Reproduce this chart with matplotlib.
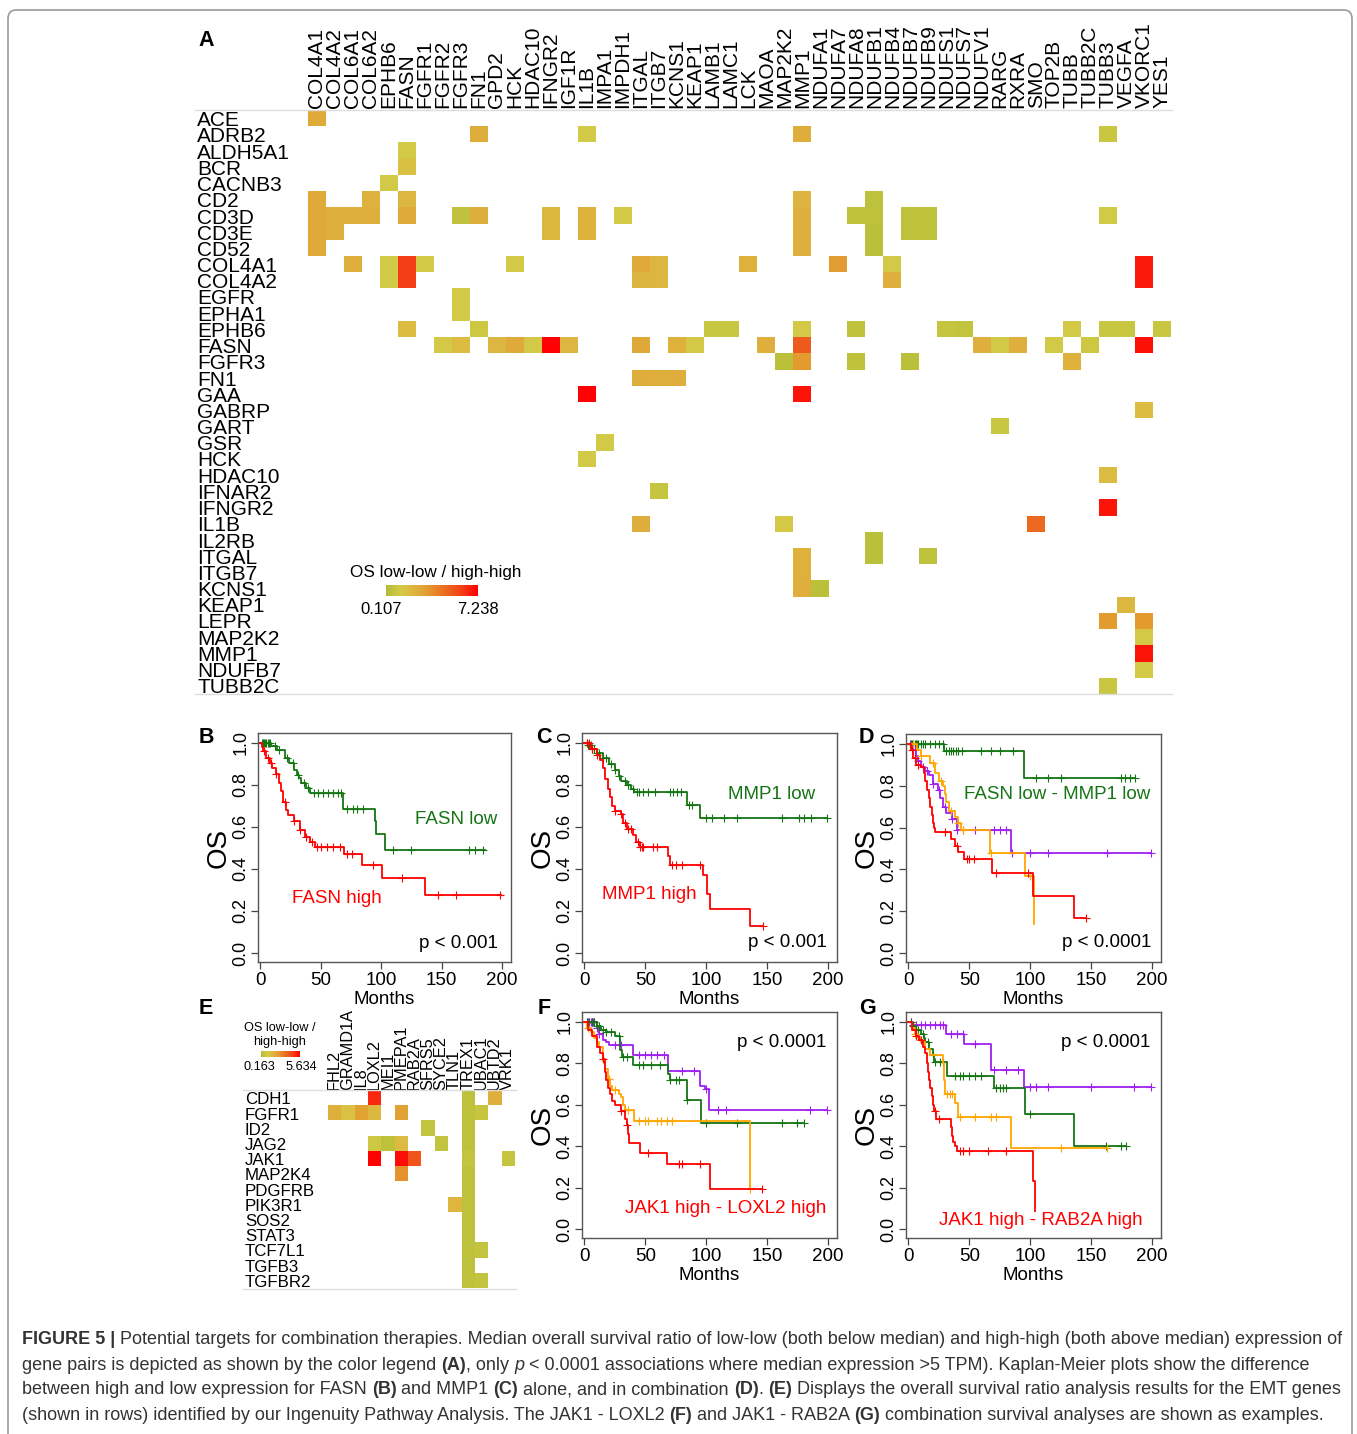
import numpy as np
import matplotlib
matplotlib.use("Agg")
import matplotlib.pyplot as plt
from matplotlib import transforms
from matplotlib.colors import LinearSegmentedColormap, Normalize
from matplotlib.patches import FancyBboxPatch

plt.rcParams['font.family'] = ['Liberation Sans', 'DejaVu Sans']

# ---------------- data: panel A heatmap ----------------
rows_a = ["ACE", "ADRB2", "ALDH5A1", "BCR", "CACNB3", "CD2", "CD3D", "CD3E", "CD52",
          "COL4A1", "COL4A2", "EGFR", "EPHA1", "EPHB6", "FASN", "FGFR3", "FN1", "GAA",
          "GABRP", "GART", "GSR", "HCK", "HDAC10", "IFNAR2", "IFNGR2", "IL1B", "IL2RB",
          "ITGAL", "ITGB7", "KCNS1", "KEAP1", "LEPR", "MAP2K2", "MMP1", "NDUFB7", "TUBB2C"]
cols_a = ["COL4A1", "COL4A2", "COL6A1", "COL6A2", "EPHB6", "FASN", "FGFR1", "FGFR2", "FGFR3",
          "FN1", "GPD2", "HCK", "HDAC10", "IFNGR2", "IGF1R", "IL1B", "IMPA1", "IMPDH1",
          "ITGAL", "ITGB7", "KCNS1", "KEAP1", "LAMB1", "LAMC1", "LCK", "MAOA", "MAP2K2",
          "MMP1", "NDUFA1", "NDUFA7", "NDUFA8", "NDUFB1", "NDUFB4", "NDUFB7", "NDUFB9",
          "NDUFS1", "NDUFS7", "NDUFV1", "RARG", "RXRA", "SMO", "TOP2B", "TUBB", "TUBB2C",
          "TUBB3", "VEGFA", "VKORC1", "YES1"]
cells_a = [
    ("ACE", "COL4A1", 2.7),
    ("ADRB2", "FN1", 2.6), ("ADRB2", "IL1B", 1.2), ("ADRB2", "MMP1", 2.6), ("ADRB2", "TUBB3", 0.9),
    ("ALDH5A1", "FASN", 1.3), ("BCR", "FASN", 1.8), ("CACNB3", "EPHB6", 1.2),
    ("CD2", "COL4A1", 2.7), ("CD2", "COL6A2", 2.4), ("CD2", "FASN", 2.2), ("CD2", "MMP1", 2.3),
    ("CD2", "NDUFB1", 0.5),
    ("CD3D", "COL4A1", 2.7), ("CD3D", "COL4A2", 2.5), ("CD3D", "COL6A1", 2.5), ("CD3D", "COL6A2", 2.5),
    ("CD3D", "FASN", 2.7), ("CD3D", "FGFR3", 0.6), ("CD3D", "FN1", 2.6), ("CD3D", "IFNGR2", 2.1),
    ("CD3D", "IL1B", 2.4), ("CD3D", "IMPDH1", 1.2), ("CD3D", "MMP1", 2.5), ("CD3D", "NDUFA8", 0.5),
    ("CD3D", "NDUFB1", 0.5), ("CD3D", "NDUFB7", 0.5), ("CD3D", "NDUFB9", 0.55), ("CD3D", "TUBB3", 1.2),
    ("CD3E", "COL4A1", 2.7), ("CD3E", "COL4A2", 2.5), ("CD3E", "IFNGR2", 2.1), ("CD3E", "IL1B", 2.4),
    ("CD3E", "MMP1", 2.5), ("CD3E", "NDUFB1", 0.45), ("CD3E", "NDUFB7", 0.5), ("CD3E", "NDUFB9", 0.55),
    ("CD52", "COL4A1", 2.7), ("CD52", "MMP1", 2.5), ("CD52", "NDUFB1", 0.45),
    ("COL4A1", "COL6A1", 2.5), ("COL4A1", "EPHB6", 1.2), ("COL4A1", "FASN", 6.0), ("COL4A1", "FGFR1", 1.2),
    ("COL4A1", "HCK", 1.3), ("COL4A1", "ITGAL", 2.7), ("COL4A1", "ITGB7", 2.2), ("COL4A1", "LCK", 2.4),
    ("COL4A1", "NDUFA7", 3.2), ("COL4A1", "NDUFB4", 1.2), ("COL4A1", "VKORC1", 6.7),
    ("COL4A2", "EPHB6", 1.2), ("COL4A2", "FASN", 6.0), ("COL4A2", "ITGAL", 2.3), ("COL4A2", "ITGB7", 2.2),
    ("COL4A2", "NDUFB4", 2.5), ("COL4A2", "VKORC1", 6.7),
    ("EGFR", "FGFR3", 1.2), ("EPHA1", "FGFR3", 1.2),
    ("EPHB6", "FASN", 2.0), ("EPHB6", "FN1", 1.0), ("EPHB6", "LAMB1", 0.9), ("EPHB6", "LAMC1", 0.9),
    ("EPHB6", "MMP1", 1.3), ("EPHB6", "NDUFA8", 0.6), ("EPHB6", "NDUFS1", 0.8), ("EPHB6", "NDUFS7", 0.7),
    ("EPHB6", "TUBB", 1.2), ("EPHB6", "TUBB3", 0.9), ("EPHB6", "VEGFA", 0.9), ("EPHB6", "YES1", 0.9),
    ("FASN", "FGFR2", 1.3), ("FASN", "FGFR3", 2.0), ("FASN", "GPD2", 2.2), ("FASN", "HCK", 2.7),
    ("FASN", "HDAC10", 1.3), ("FASN", "IFNGR2", 7.2), ("FASN", "IGF1R", 2.2), ("FASN", "ITGAL", 2.8),
    ("FASN", "KCNS1", 2.4), ("FASN", "KEAP1", 1.4), ("FASN", "MAOA", 2.5), ("FASN", "MMP1", 5.2),
    ("FASN", "NDUFV1", 2.5), ("FASN", "RARG", 1.2), ("FASN", "RXRA", 2.5), ("FASN", "TOP2B", 1.2),
    ("FASN", "TUBB2C", 1.0), ("FASN", "VKORC1", 6.9),
    ("FGFR3", "MAP2K2", 0.45), ("FGFR3", "MMP1", 3.3), ("FGFR3", "NDUFA8", 0.5), ("FGFR3", "NDUFB7", 0.45),
    ("FGFR3", "TUBB", 2.4),
    ("FN1", "ITGAL", 2.6), ("FN1", "ITGB7", 2.5), ("FN1", "KCNS1", 2.6),
    ("GAA", "IL1B", 7.2), ("GAA", "MMP1", 6.8), ("GABRP", "VKORC1", 2.0), ("GART", "RARG", 0.9),
    ("GSR", "IMPA1", 1.2), ("HCK", "IL1B", 1.2), ("HDAC10", "TUBB3", 2.0), ("IFNAR2", "ITGB7", 0.8),
    ("IFNGR2", "TUBB3", 6.8),
    ("IL1B", "ITGAL", 2.6), ("IL1B", "MAP2K2", 1.3), ("IL1B", "SMO", 4.8),
    ("IL2RB", "NDUFB1", 0.45),
    ("ITGAL", "MMP1", 2.4), ("ITGAL", "NDUFB1", 0.45), ("ITGAL", "NDUFB9", 0.5),
    ("ITGB7", "MMP1", 2.4), ("KCNS1", "MMP1", 2.5), ("KCNS1", "NDUFA1", 0.45),
    ("KEAP1", "VEGFA", 2.1), ("LEPR", "TUBB3", 3.3), ("LEPR", "VKORC1", 3.3),
    ("MAP2K2", "VKORC1", 1.3), ("MMP1", "VKORC1", 6.8), ("NDUFB7", "VKORC1", 1.3),
    ("TUBB2C", "TUBB3", 0.9),
]
range_a = (0.107, 7.238)

# ---------------- data: panel E heatmap ----------------
rows_e = ["CDH1", "FGFR1", "ID2", "JAG2", "JAK1", "MAP2K4", "PDGFRB", "PIK3R1", "SOS2",
          "STAT3", "TCF7L1", "TGFB3", "TGFBR2"]
cols_e = ["FHL2", "GRAMD1A", "IL8", "LOXL2", "MEI1", "PMEPA1", "RAB2A", "SFRS5", "SYCE2",
          "TLN1", "TREX1", "UBAC1", "UBTD2", "VRK1"]
cells_e = [
    ("CDH1", "LOXL2", 5.0), ("CDH1", "TREX1", 0.5), ("CDH1", "UBTD2", 2.0),
    ("FGFR1", "FHL2", 2.0), ("FGFR1", "GRAMD1A", 1.4), ("FGFR1", "IL8", 2.4), ("FGFR1", "LOXL2", 1.7),
    ("FGFR1", "PMEPA1", 2.4), ("FGFR1", "TREX1", 0.5), ("FGFR1", "UBAC1", 0.7),
    ("ID2", "SFRS5", 0.6), ("ID2", "TREX1", 0.5),
    ("JAG2", "LOXL2", 0.9), ("JAG2", "MEI1", 0.5), ("JAG2", "PMEPA1", 1.6), ("JAG2", "SYCE2", 0.6),
    ("JAG2", "TREX1", 0.5),
    ("JAK1", "LOXL2", 5.6), ("JAK1", "PMEPA1", 5.4), ("JAK1", "RAB2A", 4.2), ("JAK1", "TREX1", 0.65),
    ("JAK1", "VRK1", 0.7),
    ("MAP2K4", "PMEPA1", 2.8), ("MAP2K4", "TREX1", 0.5), ("PDGFRB", "TREX1", 0.5),
    ("PIK3R1", "TLN1", 1.8), ("PIK3R1", "TREX1", 0.5), ("SOS2", "TREX1", 0.5), ("STAT3", "TREX1", 0.5),
    ("TCF7L1", "TREX1", 0.5), ("TCF7L1", "UBAC1", 0.6), ("TGFB3", "TREX1", 0.5),
    ("TGFBR2", "TREX1", 0.5), ("TGFBR2", "UBAC1", 0.6),
]
range_e = (0.163, 5.634)

# ---------------- data: Kaplan-Meier curves (event times, survival after event, censor times) ----------------
b_low_t = [9, 14, 20, 24, 28, 30, 32, 34, 38, 41, 68, 95, 96, 103]
b_low_s = [0.984, 0.968, 0.928, 0.904, 0.873, 0.849, 0.833, 0.809, 0.785, 0.761, 0.686, 0.626, 0.567, 0.49]
b_low_cens = [1, 2, 3, 4, 5, 6, 7, 8, 12, 15, 22, 27, 31, 36, 39, 44, 48, 52, 56, 60, 64, 67, 72, 77, 80, 85,
              110, 125, 173, 178, 184]
b_high_t = [1, 2, 5, 8, 10, 13, 15, 17, 19, 21, 23, 28, 33, 37, 41, 45, 69, 84, 101, 136]
b_high_s = [0.98, 0.96, 0.93, 0.905, 0.88, 0.85, 0.81, 0.77, 0.72, 0.68, 0.657, 0.626, 0.586, 0.554, 0.53,
            0.506, 0.47, 0.419, 0.355, 0.275]
b_high_cens = [3, 6, 9, 13, 20, 28, 33, 38, 43, 47, 50, 55, 60, 66, 72, 76, 93, 117, 147, 162, 198]

c_low_t = [3, 6, 10, 15, 20, 25, 28, 30, 35, 38, 41, 84, 95]
c_low_s = [0.99, 0.97, 0.95, 0.93, 0.90, 0.87, 0.84, 0.82, 0.80, 0.78, 0.766, 0.705, 0.642]
c_low_cens = [2, 3, 4, 5, 6, 8, 10, 12, 15, 18, 22, 25, 28, 33, 36, 40, 43, 45, 48, 52, 58, 70, 73, 76,
              79, 86, 88, 100, 105, 115, 125, 162, 176, 180, 186, 199]
c_high_t = [5, 10, 13, 15, 17, 19, 21, 23, 25, 30, 32, 35, 40, 42, 46, 69, 70, 97, 101, 103, 136]
c_high_s = [0.97, 0.94, 0.92, 0.88, 0.83, 0.78, 0.74, 0.70, 0.677, 0.66, 0.62, 0.59, 0.56, 0.53, 0.506,
            0.46, 0.419, 0.371, 0.283, 0.207, 0.127]
c_high_cens = [2, 4, 6, 10, 25, 30, 33, 36, 38, 44, 46, 47, 48, 56, 60, 72, 75, 80, 95, 147]

d_green_t = [29, 95]
d_green_s = [0.967, 0.837]
d_green_cens = [1, 2, 3, 4, 5, 6, 7, 8, 10, 12, 14, 18, 22, 25, 28, 31, 33, 35, 37, 39, 41, 44, 60, 68, 75,
                86, 105, 115, 125, 175, 178, 182, 186]
d_red_t = [2, 4, 6, 10, 13, 14, 15, 17, 18, 19, 20, 21, 22, 35, 38, 41, 46, 69, 102, 136]
d_red_s = [0.97, 0.93, 0.90, 0.888, 0.86, 0.82, 0.78, 0.74, 0.70, 0.66, 0.62, 0.60, 0.577, 0.545, 0.51,
           0.481, 0.449, 0.382, 0.272, 0.166]
d_red_cens = [3, 5, 8, 30, 40, 48, 50, 54, 72, 98, 146]
d_orange_t = [7, 10, 18, 22, 25, 28, 30, 31, 33, 38, 41, 43, 67, 96, 103]
d_orange_s = [0.97, 0.944, 0.91, 0.86, 0.82, 0.80, 0.76, 0.72, 0.677, 0.65, 0.62, 0.588, 0.478, 0.369, 0.137]
d_orange_cens = [4, 10, 20, 27, 35, 41, 45, 68, 100]
d_purple_t = [4, 6, 8, 10, 14, 17, 20, 24, 26, 28, 31, 36, 40, 84]
d_purple_s = [0.97, 0.94, 0.92, 0.888, 0.87, 0.85, 0.808, 0.78, 0.74, 0.70, 0.668, 0.64, 0.588, 0.478]
d_purple_cens = [2, 5, 8, 12, 15, 20, 25, 30, 36, 40, 45, 55, 70, 75, 80, 85, 100, 115, 163, 199]

f_purple_t = [10, 12, 15, 18, 20, 40, 69, 95, 99, 102]
f_purple_s = [0.97, 0.94, 0.91, 0.90, 0.887, 0.841, 0.764, 0.688, 0.677, 0.573]
f_purple_cens = [2, 3, 4, 5, 6, 7, 8, 10, 12, 25, 30, 45, 50, 55, 60, 65, 80, 90, 100, 110, 116, 185, 199]
f_green_t = [10, 14, 18, 25, 29, 31, 40, 69, 70, 84, 96]
f_green_s = [0.98, 0.96, 0.95, 0.93, 0.863, 0.828, 0.791, 0.75, 0.72, 0.624, 0.51]
f_green_cens = [2, 4, 6, 8, 10, 12, 15, 18, 22, 28, 32, 35, 45, 48, 55, 62, 70, 75, 78, 84, 100, 125, 162,
                175, 180]
f_orange_t = [2, 5, 8, 10, 12, 15, 17, 19, 21, 23, 28, 30, 32, 33, 41, 136]
f_orange_s = [0.97, 0.95, 0.92, 0.90, 0.88, 0.812, 0.77, 0.724, 0.69, 0.672, 0.65, 0.637, 0.60, 0.573,
              0.522, 0.191]
f_orange_cens = [3, 20, 25, 33, 36, 45, 50, 52, 60, 63, 68, 72, 136]
f_red_t = [3, 6, 10, 13, 15, 17, 18, 19, 21, 23, 25, 30, 33, 35, 36, 37, 46, 68, 103]
f_red_s = [0.96, 0.93, 0.88, 0.85, 0.82, 0.76, 0.72, 0.68, 0.65, 0.62, 0.597, 0.57, 0.53, 0.50, 0.46,
           0.417, 0.369, 0.315, 0.191]
f_red_cens = [15, 30, 35, 52, 78, 80, 95, 146]

g_purple_t = [3, 31, 46, 68, 95]
g_purple_s = [0.984, 0.943, 0.892, 0.768, 0.685]
g_purple_cens = [2, 4, 6, 10, 14, 18, 22, 26, 28, 35, 40, 45, 55, 70, 80, 90, 100, 105, 115, 150, 185, 199]
g_green_t = [3, 6, 10, 13, 14, 17, 20, 21, 32, 70, 96, 136]
g_green_s = [0.98, 0.96, 0.94, 0.92, 0.90, 0.87, 0.84, 0.804, 0.74, 0.68, 0.554, 0.401]
g_green_cens = [2, 4, 6, 8, 12, 16, 20, 22, 26, 28, 38, 42, 45, 50, 55, 60, 72, 75, 78, 80, 100, 162, 175, 179]
g_orange_t = [3, 5, 8, 10, 14, 18, 28, 29, 30, 38, 41, 84]
g_orange_s = [0.97, 0.94, 0.924, 0.90, 0.87, 0.84, 0.80, 0.72, 0.653, 0.608, 0.541, 0.39]
g_orange_cens = [5, 32, 34, 36, 42, 55, 68, 72, 125, 163]
g_red_t = [3, 6, 9, 12, 14, 15, 16, 17, 18, 19, 20, 21, 23, 35, 36, 37, 38, 40, 102, 104]
g_red_s = [0.96, 0.93, 0.91, 0.88, 0.85, 0.80, 0.76, 0.72, 0.68, 0.64, 0.60, 0.57, 0.529, 0.49, 0.45,
           0.42, 0.40, 0.379, 0.231, 0.086]
g_red_cens = [6, 10, 22, 25, 42, 45, 50, 65, 80]

GREEN, RED, ORANGE, PURPLE = "#157515", "#FF0000", "#FFA500", "#A020F0"

# ---------------- figure helpers ----------------
W, H = 1357, 1434
fig = plt.figure(figsize=(W / 100, H / 100), dpi=100)


def fx(p):
    return p / W


def fy(p):
    return 1 - p / H


def rect_px(l, t, r, b):
    return [fx(l), fy(b), (r - l) / W, (b - t) / H]


os_cmap = LinearSegmentedColormap.from_list("os", [
    (0.0, "#B0BC38"), (0.1, "#C8C640"), (0.17, "#D6CA48"), (0.27, "#DCBA42"),
    (0.37, "#E0AA3A"), (0.46, "#E4982E"), (0.65, "#EC6A20"), (0.82, "#F44018"), (1.0, "#FF0000")])


def panel_letter(x, y, s):
    fig.text(fx(x), fy(y), s, fontsize=15.5, fontweight="bold", ha="center", va="center")


def heatmap(rect, rows, cols, cells, vrange, fs_row, fs_col, row_x):
    ax = fig.add_axes(rect)
    mat = np.full((len(rows), len(cols)), np.nan)
    for r, c, v in cells:
        mat[rows.index(r), cols.index(c)] = v
    ax.imshow(np.ma.masked_invalid(mat), cmap=os_cmap, norm=Normalize(*vrange), aspect="auto",
              interpolation="nearest", extent=(0, len(cols), len(rows), 0))
    ax.set_xlim(0, len(cols))
    ax.set_ylim(len(rows), 0)
    ax.axis("off")
    tr = transforms.blended_transform_factory(fig.transFigure, ax.transData)
    for i, r in enumerate(rows):
        ax.text(fx(row_x), i + 0.5, r, transform=tr, ha="left", va="center_baseline", fontsize=fs_row)
    tr2 = transforms.blended_transform_factory(ax.transData, ax.transAxes)
    for j, c in enumerate(cols):
        ax.text(j + 0.5, 1.004, c, transform=tr2, rotation=90, ha="center", va="bottom", fontsize=fs_col)
    return ax


def color_legend(rect):
    cax = fig.add_axes(rect)
    cax.imshow(np.linspace(0, 1, 256)[None, :], cmap=os_cmap, aspect="auto")
    cax.axis("off")


def hline(x0, x1, y):
    fig.add_artist(plt.Line2D([fx(x0), fx(x1)], [fy(y), fy(y)], color="#dddddd", lw=1))


def km_panel(rect, curves, texts, letter, letter_xy):
    ax = fig.add_axes(rect)
    for t, s, end, cens, color in curves:
        xs = np.r_[0, t, end]
        ys = np.r_[1.0, s, s[-1]]
        ax.step(xs, ys, where="post", color=color, lw=1.3)
        cens = np.asarray(cens)
        lvl = ys[np.searchsorted(xs, cens, side="right") - 1]
        ax.plot(cens, lvl, "+", color=color, ms=6, mew=0.8)
    ax.set_xlim(-2, 207.5)
    ax.set_ylim(-0.043, 1.047)
    ax.set_xticks([0, 50, 100, 150, 200])
    ax.set_xticklabels(["0", "50", "100", "150", "200"], fontsize=13.5)
    ax.set_yticks([0, 0.2, 0.4, 0.6, 0.8, 1.0])
    ax.set_yticklabels(["0.0", "0.2", "0.4", "0.6", "0.8", "1.0"], fontsize=13, rotation=90, va="center")
    ax.tick_params(direction="out", length=5, width=0.9, color="#444444", pad=2)
    ax.tick_params(axis="y", pad=1)
    for sp in ax.spines.values():
        sp.set_color("#555555")
        sp.set_linewidth(1.0)
    for txt, x, y, ha, color in texts:
        ax.text(x, y, txt, color=color, ha=ha, va="center", fontsize=13.5)
    panel_letter(letter_xy[0], letter_xy[1], letter)
    fig.text(rect[0] - 39 / W, rect[1] + rect[3] / 2, "OS", rotation=90, fontsize=20,
             ha="center", va="center")
    fig.text(rect[0] + rect[2] / 2, rect[1] - 38 / H, "Months", fontsize=13.5, ha="center", va="center")
    return ax


# ---------------- panel A ----------------
panel_letter(206, 40, "A")
heatmap(rect_px(308, 110.7, 1171, 693.9), rows_a, cols_a, cells_a, range_a, 15, 15, 197)
hline(195, 1172, 110)
hline(195, 1172, 694)
fig.text(fx(436), fy(572), "OS low-low / high-high", fontsize=12.3, ha="center", va="center")
color_legend(rect_px(386, 585, 478, 596))
fig.text(fx(381), fy(609), "0.107", fontsize=12, ha="center", va="center")
fig.text(fx(478), fy(609), "7.238", fontsize=12, ha="center", va="center")

# ---------------- panels B, C, D ----------------
km_panel(rect_px(258, 733, 511, 962),
         [(b_low_t, b_low_s, 186, b_low_cens, GREEN), (b_high_t, b_high_s, 199, b_high_cens, RED)],
         [("FASN low", 162, 0.634, "center", GREEN), ("FASN high", 63, 0.26, "center", RED),
          ("p < 0.001", 197, 0.045, "right", "black")],
         "B", (206, 738))
km_panel(rect_px(582, 733, 837, 962),
         [(c_low_t, c_low_s, 199, c_low_cens, GREEN), (c_high_t, c_high_s, 147, c_high_cens, RED)],
         [("MMP1 low", 154, 0.756, "center", GREEN), ("MMP1 high", 53, 0.279, "center", RED),
          ("p < 0.001", 199.5, 0.048, "right", "black")],
         "C", (544, 738))
km_panel(rect_px(906, 734, 1161, 962),
         [(d_green_t, d_green_s, 186, d_green_cens, GREEN), (d_purple_t, d_purple_s, 199, d_purple_cens, PURPLE),
          (d_orange_t, d_orange_s, 103, d_orange_cens, ORANGE), (d_red_t, d_red_s, 146, d_red_cens, RED)],
         [("FASN low - MMP1 low", 122, 0.76, "center", GREEN),
          ("p < 0.0001", 199.5, 0.05, "right", "black")],
         "D", (866, 738))

# ---------------- panel E ----------------
panel_letter(206, 1009, "E")
heatmap(rect_px(327.7, 1090.7, 514.3, 1288.3), rows_e, cols_e, cells_e, range_e, 12.2, 11.8, 245)
hline(243, 516, 1090)
hline(243, 516, 1289)
fig.text(fx(280), fy(1028), "OS low-low /", fontsize=9.2, ha="center", va="center")
fig.text(fx(280), fy(1042), "high-high", fontsize=9.2, ha="center", va="center")
color_legend(rect_px(261, 1051, 300, 1057))
fig.text(fx(259), fy(1067), "0.163", fontsize=9.2, ha="center", va="center")
fig.text(fx(301), fy(1067), "5.634", fontsize=9.2, ha="center", va="center")

# ---------------- panels F, G ----------------
km_panel(rect_px(582, 1012, 837, 1238),
         [(f_purple_t, f_purple_s, 199, f_purple_cens, PURPLE), (f_green_t, f_green_s, 180, f_green_cens, GREEN),
          (f_orange_t, f_orange_s, 136, f_orange_cens, ORANGE), (f_red_t, f_red_s, 146, f_red_cens, RED)],
         [("p < 0.0001", 198.6, 0.9, "right", "black"),
          ("JAK1 high - LOXL2 high", 198.6, 0.099, "right", RED)],
         "F", (544, 1009))
km_panel(rect_px(906, 1012, 1161, 1238),
         [(g_purple_t, g_purple_s, 199, g_purple_cens, PURPLE), (g_green_t, g_green_s, 179, g_green_cens, GREEN),
          (g_orange_t, g_orange_s, 163, g_orange_cens, ORANGE), (g_red_t, g_red_s, 104, g_red_cens, RED)],
         [("p < 0.0001", 198.6, 0.9, "right", "black"),
          ("JAK1 high - RAB2A high", 192.6, 0.04, "right", RED)],
         "G", (867, 1009))

# ---------------- caption ----------------
cap_family = ["Liberation Sans Narrow", "Liberation Sans", "DejaVu Sans"]
N, B, I = ("normal", "normal"), ("bold", "normal"), ("normal", "italic")
caption = [
    [("FIGURE 5 |", B), (" Potential targets for combination therapies. Median overall survival ratio of low-low "
                         "(both below median) and high-high (both above median) expression of", N)],
    [("gene pairs is depicted as shown by the color legend ", N), ("(A)", B), (", only ", N), ("p", I),
     (" < 0.0001 associations where median expression >5 TPM). Kaplan-Meier plots show the difference", N)],
    [("between high and low expression for FASN ", N), ("(B)", B), (" and MMP1 ", N), ("(C)", B),
     (" alone, and in combination ", N), ("(D)", B), (". ", N), ("(E)", B),
     (" Displays the overall survival ratio analysis results for the EMT genes", N)],
    [("(shown in rows) identified by our Ingenuity Pathway Analysis. The JAK1 - LOXL2 ", N), ("(F)", B),
     (" and JAK1 - RAB2A ", N), ("(G)", B), (" combination survival analyses are shown as examples.", N)],
]
renderer = fig.canvas.get_renderer()


def seg_width(txt, style, size):
    wt, st = style
    kw = dict(fontsize=size, fontweight=wt, fontstyle=st, family=cap_family)
    t1 = fig.text(0, 0, "|" + txt + "|", **kw)
    t2 = fig.text(0, 0, "||", **kw)
    w = t1.get_window_extent(renderer).width - t2.get_window_extent(renderer).width
    t1.remove()
    t2.remove()
    return w


base = 13.0
w1 = sum(seg_width(t, s, base) for t, s in caption[0])
cap_size = base * 1320 / w1
for k, line in enumerate(caption):
    x = 22.0
    y = 1338 + 25 * k
    for txt, (wt, st) in line:
        fig.text(fx(x), fy(y), txt, fontsize=cap_size, fontweight=wt, fontstyle=st, family=cap_family,
                 ha="left", va="center_baseline", color="#333333")
        x += seg_width(txt, (wt, st), cap_size)

# outer frame
fig.add_artist(FancyBboxPatch((fx(8), fy(1450)), fx(1344), (1445 - 5) / H,
                              boxstyle="round,pad=0,rounding_size=0.006", transform=fig.transFigure,
                              fill=False, ec="#9a9a9a", lw=1.2))

fig.savefig("out.png", dpi=100)
